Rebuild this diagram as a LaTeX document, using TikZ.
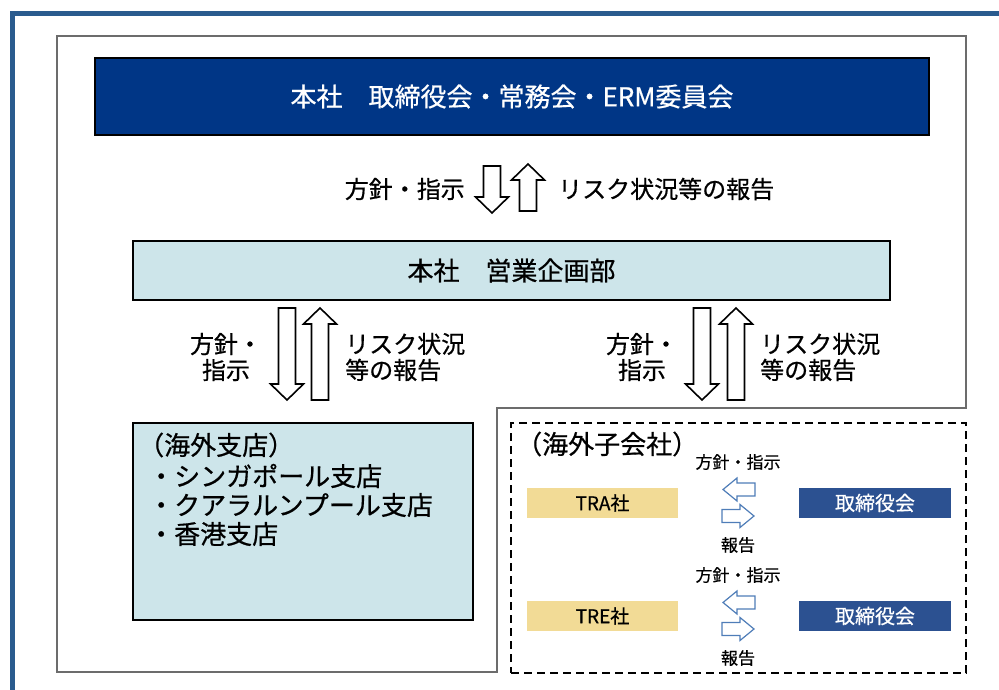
\documentclass[tikz,border=0pt]{standalone}
\usepackage{fontspec}
\setmainfont{Noto Sans CJK JP}[FakeBold=0.6]
\definecolor{framebl}{HTML}{2A5B8E}
\definecolor{navy}{HTML}{003686}
\definecolor{paleblue}{HTML}{CDE5EA}
\definecolor{boxtan}{HTML}{F2DB96}
\definecolor{boardbl}{HTML}{2C5191}
\definecolor{arrowbl}{HTML}{4F7DB8}
% hollow block arrows: centre x, top y, bottom y
\newcommand{\bigdown}[3]{\draw[blockarrow] (#1-8.5,#2) -- (#1+8.5,#2) -- (#1+8.5,#3-16) -- (#1+16.5,#3-16) -- (#1,#3) -- (#1-16.5,#3-16) -- (#1-8.5,#3-16) -- cycle;}
\newcommand{\bigup}[3]{\draw[blockarrow] (#1-8.5,#3) -- (#1+8.5,#3) -- (#1+8.5,#2+16) -- (#1+16.5,#2+16) -- (#1,#2) -- (#1-16.5,#2+16) -- (#1-8.5,#2+16) -- cycle;}
% small arrows: left x, right x, centre y
\newcommand{\smallleft}[3]{\draw[smallarrow] (#1,#3) -- (#1+14,#3-11.5) -- (#1+14,#3-6.5) -- (#2,#3-6.5) -- (#2,#3+6.5) -- (#1+14,#3+6.5) -- (#1+14,#3+11.5) -- cycle;}
\newcommand{\smallright}[3]{\draw[smallarrow] (#2,#3) -- (#2-14,#3-11.5) -- (#2-14,#3-6.5) -- (#1,#3-6.5) -- (#1,#3+6.5) -- (#2-14,#3+6.5) -- (#2-14,#3+11.5) -- cycle;}

\begin{document}
\begin{tikzpicture}[x=1pt,y=-1pt,
  box/.style={draw=black,line width=2pt,inner sep=0pt},
  lbl/.style={inner sep=0pt,font=\fontsize{24}{26}\selectfont},
  big/.style={inner sep=0pt,font=\fontsize{26}{30}\selectfont},
  small/.style={inner sep=0pt,font=\fontsize{17}{20}\selectfont},
  blockarrow/.style={draw=black,line width=1.6pt,fill=white},
  smallarrow/.style={draw=arrowbl,line width=1.2pt,fill=white}]
\useasboundingbox (0,0) rectangle (999,690);
% frame
\draw[framebl,line width=5pt] (12,690) -- (12,14) -- (999,14);
\draw[gray!85!black,line width=2pt] (57,36) -- (966,36) -- (966,408) -- (497,408) -- (497,672) -- (57,672) -- cycle;

% head office
\node[box,big,fill=navy,text=white,minimum width=834,minimum height=77] (board) at (512,96.5) {本社　取締役会・常務会・ERM委員会};
\node[box,big,fill=paleblue,minimum width=757,minimum height=59] (sales) at (511.5,270.5) {本社　営業企画部};

\bigdown{492}{166}{213}
\bigup{528}{164}{211}
\node[lbl,anchor=east] (order) at (465,189) {方針・指示};
\node[lbl,anchor=west] (report) at (558,189) {リスク状況等の報告};

% branches
\node[box,fill=paleblue,minimum width=340,minimum height=197] (branch) at (303,521.5) {};
\node[big,anchor=west] (br0) at (138,445) {（海外支店）};
\node[big,anchor=west] (br1) at (148,476) {・シンガポール支店};
\node[big,anchor=west] (br2) at (148,505) {・クアラルンプール支店};
\node[big,anchor=west] (br3) at (148,534) {・香港支店};

\bigdown{287}{308}{400}
\bigup{320}{308}{400}
\node[lbl,align=center] (order1) at (226,357) {方針・\\指示};
\node[lbl,align=left,anchor=west] (report1) at (345,357) {リスク状況\\等の報告};

% subsidiaries
\node[draw=black,line width=2.5pt,dash pattern=on 8pt off 5pt,minimum width=455,minimum height=250] (subs) at (738.5,548) {};
\node[big,anchor=west] (subs0) at (516,444) {（海外子会社）};

\bigdown{702}{308}{400}
\bigup{736}{308}{400}
\node[lbl,align=center] (order2) at (642,357) {方針・\\指示};
\node[lbl,align=left,anchor=west] (report2) at (760,357) {リスク状況\\等の報告};

\node[fill=boxtan,minimum width=151,minimum height=30,font=\fontsize{19}{22}\selectfont] (tra) at (602.5,503) {TRA社};
\node[fill=boardbl,text=white,minimum width=152,minimum height=30,font=\fontsize{20}{22}\selectfont] (trab) at (875,503) {取締役会};
\node[small] (order3) at (738,462) {方針・指示};
\smallleft{723}{755}{489.5}
\smallright{722}{754}{516}
\node[small] (report3) at (738,545) {報告};

\node[fill=boxtan,minimum width=151,minimum height=30,font=\fontsize{19}{22}\selectfont] (tre) at (602.5,616) {TRE社};
\node[fill=boardbl,text=white,minimum width=152,minimum height=30,font=\fontsize{20}{22}\selectfont] (treb) at (875,616) {取締役会};
\node[small] (order4) at (738,575) {方針・指示};
\smallleft{723}{755}{602.5}
\smallright{722}{754}{629}
\node[small] (report4) at (738,658) {報告};
\end{tikzpicture}
\end{document}
